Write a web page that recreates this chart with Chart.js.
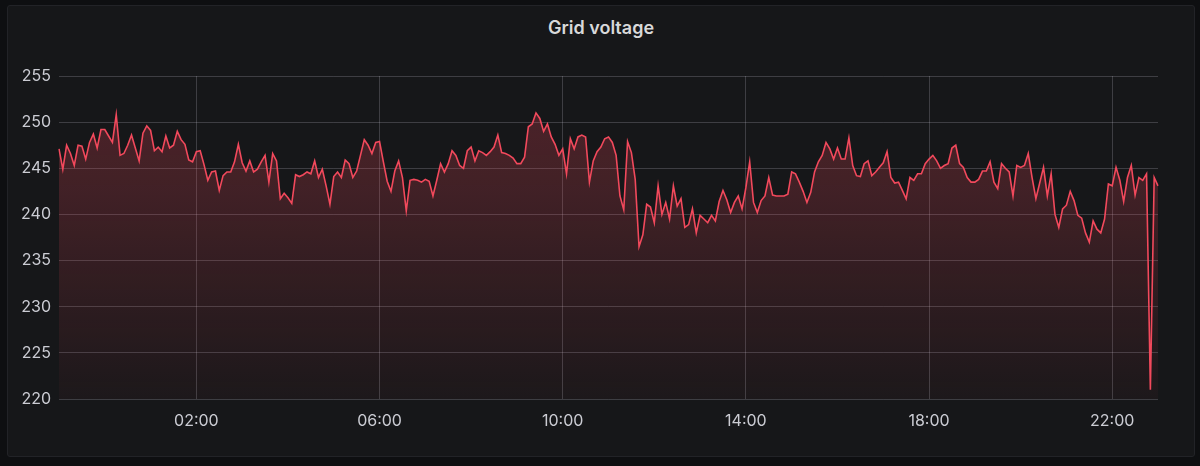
<!DOCTYPE html>
<html>
<head>
<meta charset="utf-8">
<script src="https://cdn.jsdelivr.net/npm/chart.js@4.4.1/dist/chart.umd.min.js"></script>
<style>
  html, body { margin: 0; padding: 0; background: #0e0f11; width: 1200px; height: 466px; overflow: hidden; }
  #panel { position: absolute; left: 7px; top: 5px; width: 1186px; height: 450px; background: #161719; border: 1px solid #222327; border-radius: 3px; }
  #title { position: absolute; left: 0; top: 17px; width: 1202px; text-align: center; font-family: Inter, "Noto Sans", sans-serif; font-weight: 600; font-size: 18px; color: #d8d9da; }
  #wrap { position: absolute; left: 0; top: 0; width: 1200px; height: 466px; }
</style>
</head>
<body>
<div id="panel"></div>
<div id="title">Grid voltage</div>
<div id="wrap"><canvas id="c" width="1200" height="466"></canvas></div>
<script>
// Grid voltage, one reading every 5 minutes from 23:00 (previous day) to 23:00
const startMinute = 23 * 60;
const stepMinutes = 5;
const voltage = [
  247.1, 244.9, 247.5, 246.6, 245.3, 247.5, 247.4, 246.0, 247.8, 248.7,
  247.2, 249.2, 249.2, 248.5, 247.8, 250.8, 246.4, 246.6, 247.5, 248.6,
  247.2, 245.8, 248.8, 249.6, 249.1, 246.9, 247.3, 246.8, 248.5, 247.2,
  247.5, 249.0, 248.1, 247.6, 245.9, 245.7, 246.8, 246.9, 245.4, 243.7,
  244.6, 244.7, 242.6, 244.2, 244.6, 244.6, 245.7, 247.6, 245.6, 244.7,
  245.8, 244.6, 244.9, 245.7, 246.4, 243.5, 246.6, 245.8, 241.7, 242.3,
  241.8, 241.2, 244.3, 244.1, 244.3, 244.6, 244.4, 245.8, 244.0, 244.9,
  243.1, 241.1, 244.1,
  244.6, 244.0, 245.9, 245.5, 244.0, 244.7, 246.4,
  248.1, 247.5, 246.6, 247.8, 247.9, 245.7, 243.6, 242.5, 244.7, 245.8,
  244.0, 240.4, 243.7, 243.8, 243.7, 243.5, 243.8, 243.6, 242.0, 243.7,
  245.5, 244.6, 245.5, 246.9, 246.4, 245.3, 245.0, 246.9, 247.3, 245.8,
  246.9, 246.7, 246.4, 246.8, 247.3, 248.6, 246.7, 246.6, 246.4, 246.1,
  245.5, 245.5, 246.2, 249.5, 249.8, 251.0, 250.4, 249.0, 249.8, 248.4,
  247.6, 246.4, 247.1, 244.4, 248.2, 247.1, 248.4, 248.6, 248.4, 243.5,
  245.8, 246.8, 247.3, 248.2, 248.4,
  247.8, 246.4, 242.0, 240.5, 247.9,
  246.7, 243.8, 236.5, 237.8, 241.1, 240.8, 239.1, 243.1, 240.0, 241.3,
  239.5, 243.1, 240.9, 241.7, 238.6, 238.9, 240.6, 238.0, 239.9, 239.5,
  239.1, 239.9, 239.3, 241.4, 242.6, 241.6, 240.2, 241.3, 242.0, 240.6,
  242.9, 245.7, 241.3, 240.2, 241.5, 242.0, 244.0, 242.1, 242.0, 242.0,
  242.0, 242.2, 244.6, 244.4, 243.5, 242.5, 241.3, 242.4, 244.6, 245.7,
  246.4, 247.8, 247.1, 246.0, 247.2, 246.0, 246.0, 248.3, 245.3, 244.2,
  244.1, 245.5, 245.8, 244.2, 244.6, 245.1, 245.6,
  246.8, 244.0, 243.4,
  243.5, 242.6, 241.7, 244.0, 243.7, 244.4, 244.4, 245.5, 246.0, 246.4,
  245.8, 245.0, 245.3, 245.5, 247.2, 247.5, 245.5, 245.1, 244.0, 243.5,
  243.5, 243.8, 244.7, 244.7, 245.7, 243.5, 242.8, 245.5, 245.0, 244.6,
  242.0, 245.3, 245.1, 245.3, 246.6, 244.0, 241.7, 243.4, 245.1, 242.0,
  244.4, 240.0, 238.6, 240.6, 241.0, 242.5, 241.5, 239.9, 239.6, 238.0,
  237.0, 239.3, 238.4, 238.0, 239.5, 243.3, 243.1, 245.1, 243.7, 241.4,
  244.0, 245.3, 242.1, 244.0, 243.7, 244.4, 221.0, 244.0, 243.1
];
const xTickLabels = ['02:00', '06:00', '10:00', '14:00', '18:00', '22:00'];
const yTicks = [220, 225, 230, 235, 240, 245, 250, 255];

function pad(n) { return (n < 10 ? '0' : '') + n; }
const times = [];
for (let i = 0; i < voltage.length; i++) {
  const m = (startMinute + i * stepMinutes) % 1440;
  times.push(pad(Math.floor(m / 60)) + ':' + pad(m % 60));
}

const textColor = '#cbccd3';
const gridColor = 'rgba(204,204,220,0.22)';
const font = { family: 'Inter, "Noto Sans", sans-serif', size: 16 };

new Chart(document.getElementById('c'), {
  type: 'line',
  data: {
    labels: times,
    datasets: [{
      data: voltage,
      borderColor: '#F2495C',
      borderWidth: 1.6,
      pointRadius: 0,
      tension: 0,
      fill: 'start',
      backgroundColor: (ctx) => {
        const ca = ctx.chart.chartArea;
        if (!ca) return 'rgba(242,73,92,0.15)';
        const g = ctx.chart.ctx.createLinearGradient(0, ca.top, 0, ca.bottom);
        g.addColorStop(0, 'rgba(242,73,92,0.26)');
        g.addColorStop(0.35, 'rgba(242,73,92,0.2)');
        g.addColorStop(1, 'rgba(242,73,92,0.03)');
        return g;
      }
    }]
  },
  options: {
    responsive: false,
    animation: false,
    events: [],
    layout: { padding: { top: 76, right: 42, left: 0, bottom: 0 } },
    plugins: { legend: { display: false }, tooltip: { enabled: false }, title: { display: false } },
    scales: {
      x: {
        type: 'category',
        offset: false,
        border: { display: false },
        grid: { color: gridColor, drawTicks: false, lineWidth: 1 },
        ticks: {
          autoSkip: false, maxRotation: 0, color: textColor, font: font, padding: 13,
          callback: function (v) { return this.getLabelForValue(v); }
        },
        afterBuildTicks: (scale) => {
          scale.ticks = scale.ticks.filter(t => xTickLabels.includes(times[t.value]));
        },
        afterFit: (scale) => { scale.height = 67; }
      },
      y: {
        min: 220, max: 255,
        border: { display: false },
        grid: { color: gridColor, drawTicks: false, lineWidth: 1 },
        ticks: { color: textColor, font: font, padding: 8 },
        afterBuildTicks: (scale) => { scale.ticks = yTicks.map(v => ({ value: v })); },
        afterFit: (scale) => { scale.width = 59; }
      }
    }
  }
});
</script>
</body>
</html>
